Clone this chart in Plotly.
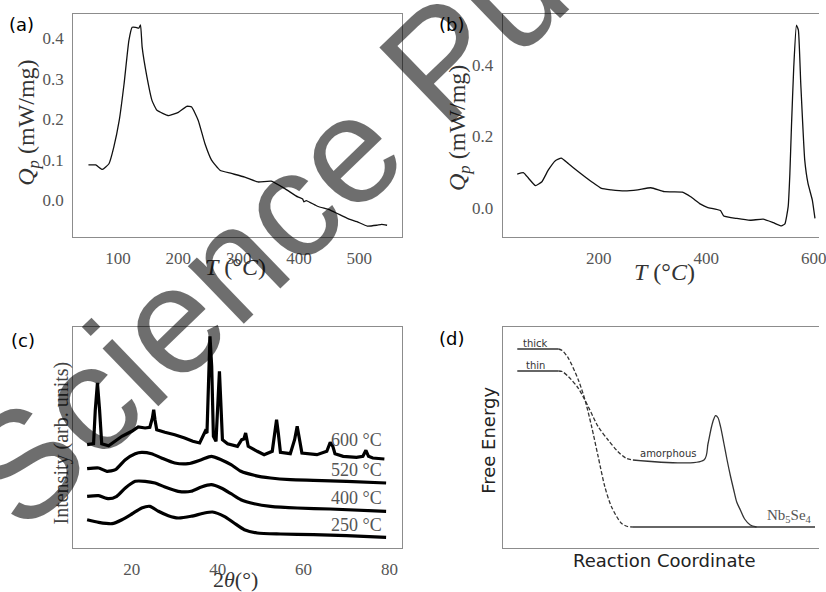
import plotly.graph_objects as go

W, H = 826, 592

# ---------------- data ----------------
# (a) DSC, thick film
a_T = [51, 63, 74, 85, 93, 102, 110, 118, 123.5, 129, 134.5, 137.3, 140, 148, 156.4, 164.6,
       184, 200, 214, 222, 233, 244, 255, 269, 288, 310, 332, 354, 376, 398, 406, 408, 412,
       430.6, 452.5, 480, 496, 513, 529, 537, 546]
a_Q = [0.087, 0.087, 0.076, 0.090, 0.131, 0.197, 0.287, 0.394, 0.427, 0.427, 0.425, 0.433,
       0.378, 0.304, 0.246, 0.222, 0.209, 0.217, 0.232, 0.230, 0.197, 0.140, 0.099, 0.074,
       0.066, 0.057, 0.045, 0.047, 0.029, 0.008, 0.003, -0.004, -0.001, -0.015, -0.025,
       -0.045, -0.053, -0.064, -0.062, -0.060, -0.062]

# (b) DSC, thin film
b_T = [48, 60, 69.5, 82, 94, 106, 119, 130, 143, 162, 186.5, 205, 223, 248, 272.5, 297, 322,
       355.6, 371, 389.5, 402, 426.5, 432.6, 457, 482, 506, 525, 540, 546.5, 552.6, 555.7,
       558.7, 563, 568, 571.6, 576, 583.4, 589.5, 597.5, 602.5]
b_Q = [0.0945, 0.098, 0.082, 0.062, 0.073, 0.106, 0.132, 0.139, 0.124, 0.101, 0.073, 0.054,
       0.050, 0.047, 0.050, 0.056, 0.045, 0.044, 0.031, 0.010, 0.001, -0.008, -0.023, -0.030,
       -0.035, -0.032, -0.042, -0.051, -0.045, 0.003, 0.094, 0.227, 0.395, 0.512, 0.498,
       0.349, 0.134, 0.068, 0.022, -0.030]

# (c) XRD patterns (offset, arbitrary units)
c600_x = [9.6, 11.1, 11.5, 12.0, 12.5, 13.0, 14.6, 16.2, 17.7, 20, 21.5, 23.1, 24.2, 24.8,
          25.1, 25.4, 25.8, 27.7, 30, 32.3, 34.2, 35.8, 36.5, 37.1, 37.5, 37.9, 38.2, 38.6,
          39.0, 39.6, 40.0, 40.4, 40.7, 41.1, 42.3, 44.6, 45.6, 46.1, 46.5, 47.1, 49.2, 50.8,
          52.7, 53.3, 53.7, 54.1, 54.6, 56.9, 57.9, 58.5, 59.0, 59.6, 63.1, 65.4, 66.2, 66.8,
          67.3, 69.2, 72.3, 73.8, 74.5, 75.1, 76.1, 78.8]
c600_y = [103.3, 104.3, 138, 165, 138, 104.3, 102.3, 106.7, 111.7, 116.7, 121, 120, 120.7,
          130, 138.3, 128.3, 118.3, 115.7, 113.3, 110, 106.7, 105, 111.7, 116.7, 115, 181.7,
          211.7, 181.7, 111.7, 106.7, 148, 176.7, 148, 108.3, 104.3, 101.7, 108.3, 109, 115,
          101.7, 96.7, 93.3, 96.7, 115, 128.3, 115, 95.7, 94.3, 108.3, 121.7, 108.3, 95, 93.3,
          96.7, 105.7, 101.7, 94.3, 91.7, 90.7, 91.7, 97.7, 91.7, 90, 89]
c520_x = [9.6, 12.3, 14.2, 16.2, 18.5, 20.8, 22.3, 24.6, 26.9, 30, 33.1, 36.2, 38.5, 40.8,
          43.1, 45.4, 48.5, 52.3, 56.9, 62.3, 70, 79.2]
c520_y = [79.3, 80, 76.7, 78.3, 88.3, 94.3, 95.7, 94.3, 90, 85, 84.3, 88.3, 91.7, 88.3, 83.3,
          76.7, 72.7, 70, 68.3, 67.7, 66.7, 65]
c400_x = [9.6, 12.3, 14.6, 16.5, 18.5, 20.8, 23.1, 25.4, 27.7, 30.8, 33.8, 36.2, 38.5, 40.8,
          43.1, 45.4, 48.5, 52.3, 58.5, 66.2, 79.2]
c400_y = [51.7, 52.3, 49.3, 51.7, 60, 66.7, 66.7, 65, 61, 56.7, 56.7, 61, 63.3, 60, 54.3,
          48.3, 44.3, 41.7, 40, 39, 36.7]
c250_x = [9.6, 12.3, 15.4, 17.7, 20, 22.3, 24.2, 26.2, 28.5, 30.8, 33.8, 36.9, 38.8, 41.5,
          43.8, 46.2, 49.2, 54.6, 62.3, 70, 79.2]
c250_y = [28.3, 25.7, 24.3, 28.3, 34, 40, 41.7, 36.7, 32.3, 30, 31.7, 35, 36, 31.7, 25, 18.3,
          15, 14, 13.3, 12.3, 10.7]
c_labels = ["600 °C", "520 °C", "400 °C", "250 °C"]
c_label_y = [108.3, 78.3, 50, 23.3]

# (d) schematic free-energy diagram (arbitrary units)
thick_flat_x = [14.7, 56.3]
thick_flat_y = [199, 199]
thick_dash_x = [56.3, 60, 66.3, 76.3, 83, 89.7, 96.3, 103, 109.7, 119.7, 126, 131.3]
thick_dash_y = [199, 197.5, 189.7, 168, 148, 121.3, 91.3, 61.3, 41.3, 24.7, 21.5, 21]
thin_flat_x = [14.7, 56.3]
thin_flat_y = [177, 177]
thin_dash_x = [56.3, 60, 66.3, 76.3, 86.3, 96.3, 106.3, 116.3, 124, 131.3]
thin_dash_y = [177, 176.5, 171.3, 159.7, 141.3, 121.3, 108, 96.3, 90, 88]
amor_x = [131.3, 203, 207, 210.3, 212.5, 214.7, 217, 219.7, 223, 226.3, 229.7, 233, 236,
          239.7, 244, 249.7, 256]
amor_y = [88, 88, 104, 120, 128, 132.3, 130.5, 121.3, 105, 88, 72, 58, 46, 38, 29, 23, 21]
final_x = [131.3, 315]
final_y = [21, 21]

# ---------------- figure ----------------
fig = go.Figure()

def dx(p):
    return p / W

def dy(p):
    return 1 - p / H

fig.add_trace(go.Scatter(x=a_T, y=a_Q, mode="lines", xaxis="x", yaxis="y",
                         line=dict(color="#111", width=1.3, shape="spline", smoothing=0.4)))
fig.add_trace(go.Scatter(x=b_T, y=b_Q, mode="lines", xaxis="x2", yaxis="y2",
                         line=dict(color="#111", width=1.3, shape="spline", smoothing=0.4)))
fig.add_trace(go.Scatter(x=c600_x, y=c600_y, mode="lines", xaxis="x3", yaxis="y3",
                         line=dict(color="black", width=3.2)))
for xs, ys in [(c520_x, c520_y), (c400_x, c400_y), (c250_x, c250_y)]:
    fig.add_trace(go.Scatter(x=xs, y=ys, mode="lines", xaxis="x3", yaxis="y3",
                             line=dict(color="black", width=3.2, shape="spline", smoothing=0.6)))
dcol = "#333"
for xs, ys, dash in [(thick_flat_x, thick_flat_y, "solid"), (thick_dash_x, thick_dash_y, "dash"),
                     (thin_flat_x, thin_flat_y, "solid"), (thin_dash_x, thin_dash_y, "dash"),
                     (amor_x, amor_y, "solid"), (final_x, final_y, "solid")]:
    fig.add_trace(go.Scatter(x=xs, y=ys, mode="lines", xaxis="x4", yaxis="y4",
                             line=dict(color=dcol, width=1.3, dash="4px,2px" if dash == "dash" else "solid",
                                       shape="spline", smoothing=0.8)))

tickfont = dict(family="Liberation Serif", size=17, color="#555")
base = dict(showline=True, linecolor="#8c8c8c", linewidth=1.3, showgrid=False, zeroline=False,
            ticks="outside", ticklen=5, tickcolor="rgba(0,0,0,0)", tickfont=tickfont,
            ticklabeloverflow="allow")

fig.update_layout(
    width=W, height=H, margin=dict(l=0, r=0, t=0, b=0),
    paper_bgcolor="white", plot_bgcolor="white", showlegend=False,
    xaxis=dict(base, domain=[dx(74), dx(405)], range=[26, 570], anchor="y", mirror=True,
               tickvals=[100, 200, 300, 400, 500]),
    yaxis=dict(base, domain=[dy(237), dy(14)], range=[-0.091, 0.46], anchor="x", mirror=True,
               tickvals=[0, 0.1, 0.2, 0.3, 0.4], tickformat=".1f"),
    xaxis2=dict(base, domain=[dx(507), 1], range=[21, 610], anchor="y2", mirror=True,
                tickvals=[200, 400, 600]),
    yaxis2=dict(base, domain=[dy(237), dy(14)], range=[-0.082, 0.543], anchor="x2",
                tickvals=[0, 0.2, 0.4], tickformat=".1f"),
    xaxis3=dict(base, domain=[dx(74), dx(405)], range=[6.4, 82.8], anchor="y3", mirror=True,
                tickvals=[20, 40, 60, 80]),
    yaxis3=dict(base, domain=[dy(548), dy(327)], range=[0, 221], anchor="x3", mirror=True,
                showticklabels=False, ticks=""),
    xaxis4=dict(base, domain=[dx(507), 1], range=[0, 319], anchor="y4", mirror=True,
                showticklabels=False, ticks=""),
    yaxis4=dict(base, domain=[dy(548), dy(327)], range=[0, 221], anchor="x4",
                showticklabels=False, ticks=""),
)

ann = []
serif = "Liberation Serif"
sans = "DejaVu Sans"

def paper_text(text, x, y, size, family, color="black", angle=0, xanchor="center"):
    ann.append(dict(text=text, x=dx(x), y=dy(y), xref="paper", yref="paper", showarrow=False,
                    xanchor=xanchor, yanchor="middle", textangle=angle,
                    font=dict(family=family, size=size, color=color)))

# panel labels
paper_text("(a)", 22, 25, 18, sans)
paper_text("(b)", 455, 25, 18, sans)
paper_text("(c)", 23, 340, 18, sans)
paper_text("(d)", 455, 338, 18, sans)
# axis titles
paper_text("<i>Q<sub>p</sub></i> (mW/mg)", 28, 123, 24, serif, "#333", -90)
paper_text("<i>T</i> (°<i>C</i>)", 238, 267, 24, serif, "#333")
paper_text("<i>Q<sub>p</sub></i> (mW/mg)", 463, 128, 24, serif, "#333", -90)
paper_text("<i>T</i> (°<i>C</i>)", 670, 272, 24, serif, "#333")
paper_text("Intensity (arb. units)", 62, 443, 20, serif, "#444", -90)
paper_text("2<i>θ</i>(°)", 238, 579, 22, serif, "#333")
paper_text("Free Energy", 492, 440, 18, sans, "#222", -90)
paper_text("Reaction Coordinate", 670, 560, 18, sans, "#222")

for lab, yy in zip(c_labels, c_label_y):
    ann.append(dict(text=lab, x=78.8, y=yy, xref="x3", yref="y3", showarrow=False,
                    xanchor="right", yanchor="middle",
                    font=dict(family=serif, size=18, color="#555")))

def d_text(text, x, y, size, family, color="#333"):
    ann.append(dict(text=text, x=x, y=y, xref="x4", yref="y4", showarrow=False,
                    xanchor="center", yanchor="middle", font=dict(family=family, size=size, color=color)))

d_text("thick", 33, 205, 10, sans)
d_text("thin", 33, 183, 10, sans)
d_text("amorphous", 166.3, 94.5, 10, sans)
d_text("Nb<sub>5</sub>Se<sub>4</sub>", 289.7, 32, 15, serif, "#555")

# watermark
ann.append(dict(text="Science Pub", x=dx(296), y=dy(202), xref="paper", yref="paper",
                showarrow=False, xanchor="center", yanchor="middle", textangle=-44,
                font=dict(family="Liberation Sans", size=152, color="rgba(0,0,0,0.57)")))

fig.update_layout(annotations=ann)
fig.write_html("out.html")
